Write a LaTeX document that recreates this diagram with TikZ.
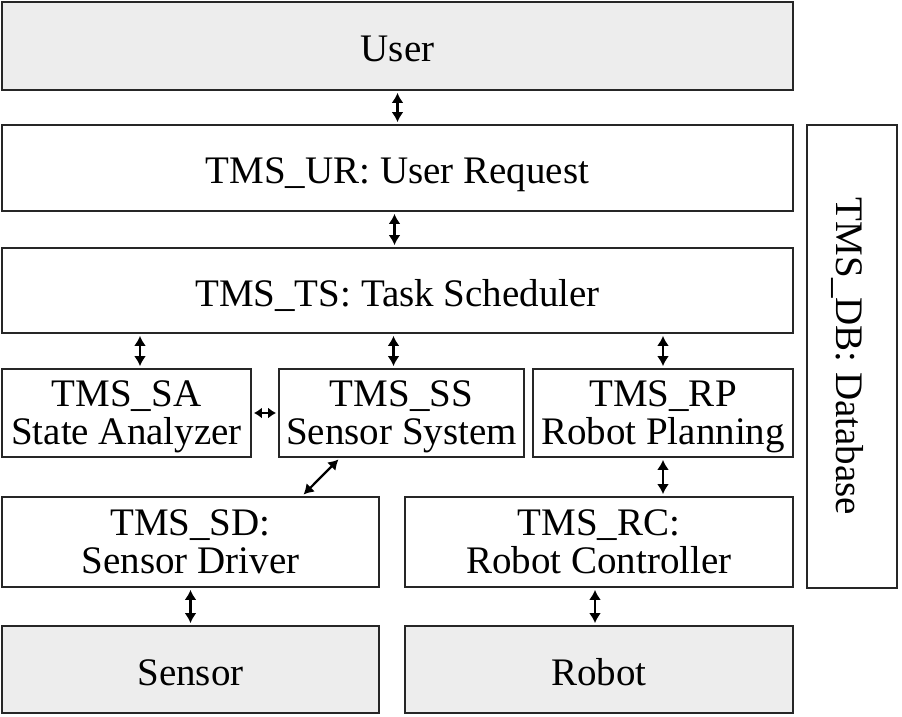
\documentclass[tikz,border=0pt]{standalone}
\usepackage{fontspec}
\setmainfont{Liberation Serif}
\usetikzlibrary{arrows.meta}
\begin{document}
\begin{tikzpicture}[x=1pt,y=-1pt,
  box/.style={draw=black!85, line width=2.8pt, inner sep=0pt, align=center,
     font=\fontsize{39}{38}\selectfont, text depth=0pt},
  onel/.style={text height=31pt},
  gbox/.style={box, fill=black!7},
  arr/.style={line width=2.2pt, {Latex[length=10pt,width=12pt]}-{Latex[length=10pt,width=12pt]}, shorten <=1.5pt, shorten >=1.5pt},
  sarr/.style={line width=2.2pt, {Latex[length=8pt,width=11pt]}-{Latex[length=8pt,width=11pt]}, shorten <=1.5pt, shorten >=1.5pt}]
\useasboundingbox (0,0) rectangle (902,716);
\node[gbox, onel, minimum width=791pt, minimum height=88pt] (User) at (397.5,46) {User};
\node[box, onel, minimum width=791pt, minimum height=86pt] (UR) at (397.5,168) {TMS\_UR: User Request};
\node[box, onel, minimum width=791pt, minimum height=85pt] (TS) at (397.5,290.5) {TMS\_TS: Task Scheduler};
\node[box, minimum width=249pt, minimum height=88pt] (SA) at (126.5,413) {TMS\_SA\\State Analyzer};
\node[box, minimum width=245pt, minimum height=88pt] (SS) at (401.5,413) {TMS\_SS\\Sensor System};
\node[box, minimum width=260pt, minimum height=88pt] (RP) at (663,413) {TMS\_RP\\Robot Planning};
\node[box, minimum width=377pt, minimum height=90pt] (SD) at (190.5,542) {TMS\_SD:\\Sensor Driver};
\node[box, minimum width=388pt, minimum height=90pt] (RC) at (599,542) {TMS\_RC:\\Robot Controller};
\node[gbox, onel, minimum width=377pt, minimum height=87pt] (Sensor) at (190.5,669.5) {Sensor};
\node[gbox, onel, minimum width=388pt, minimum height=87pt] (Robot) at (599,669.5) {Robot};
\node[box, minimum width=90pt, minimum height=463pt] (DB) at (852,356.5) {};
\node[font=\fontsize{39}{38}\selectfont, rotate=-90, text height=31pt, text depth=0pt] (DBt) at (DB.center) {TMS\_DB: Database};
\draw[arr] (User.south) -- (UR.north);
\coordinate (c1) at ([xshift=-3pt]UR.south);
\draw[arr] (c1) -- (c1 |- TS.north);
\coordinate (c2) at ([xshift=13.5pt]SA.north);
\draw[arr] (c2 |- TS.south) -- (c2);
\coordinate (c3) at ([xshift=-8pt]SS.north);
\draw[arr] (c3 |- TS.south) -- (c3);
\draw[arr] (RP.north |- TS.south) -- (RP.north);
\draw[sarr] (SA.east) -- (SS.west);
\draw[arr] ([xshift=-62pt]SS.south) -- ([xshift=112pt]SD.north);
\draw[arr] (RP.south) -- (RP.south |- RC.north);
\draw[arr] (SD.south) -- (Sensor.north);
\coordinate (c4) at ([xshift=-4pt]RC.south);
\draw[arr] (c4) -- (c4 |- Robot.north);
\end{tikzpicture}
\end{document}
